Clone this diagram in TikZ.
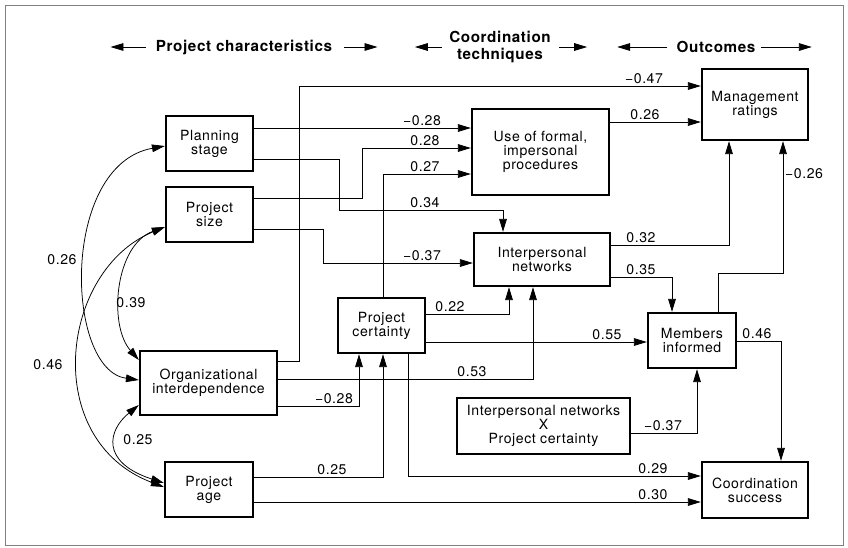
\documentclass[tikz,border=0pt]{standalone}
\usepackage{fontspec}
\setmainfont[LetterSpace=4]{TeX Gyre Heros}
\usetikzlibrary{arrows.meta}

\begin{document}
\begin{tikzpicture}[
  x=0.03cm, y=-0.03cm,
  >={Triangle[length=11pt,width=6.5pt]},
  every node/.style={font=\fontsize{12}{12}\selectfont},
  box/.style 2 args={draw, line width=2pt, align=center, inner sep=0pt,
    minimum width=#1*0.03cm, minimum height=#2*0.03cm},
  lab/.style={above, inner sep=1.5pt},
  head/.style={font=\fontsize{13}{14}\selectfont\bfseries, align=center, inner sep=0pt},
  every path/.style={line width=0.65pt}
]
\useasboundingbox (0,0) rectangle (848,547);
\draw[gray, line width=0.5pt] (5,5) rectangle (843,545);

% Headings
\node[head] (pc) at (244,47) {Project characteristics};
\node[head] (ct) at (500,47) {Coordination\\techniques};
\node[head] (oc) at (716,47) {Outcomes};
\draw[->] (pc.west) ++(-10,0) -- ++(-35,0);
\draw[->] (pc.east) ++(12,0) -- ++(33,0);
\draw[->] (ct.west) ++(-7,0) -- ++(-27,0);
\draw[->] (ct.east) ++(8,0) -- ++(28,0);
\draw[->] (oc.west) ++(-9,0) -- ++(-50,0);
\draw[->] (oc.east) ++(5,0) -- ++(51,0);

% Nodes
\node[box={87}{55}]  (plan)  at (209.5,143.5) {Planning\\stage};
\node[box={87}{55}]  (size)  at (209.5,214.5) {Project\\size};
\node[box={137}{64}] (org)   at (208.5,383)   {Organizational\\interdependence};
\node[box={88}{55}]  (age)   at (209,489.5)   {Project\\age};
\node[box={87}{55}]  (cert)  at (381.5,325.5) {Project\\certainty};
\node[box={137}{86}] (use)   at (540.5,152)   {Use of formal,\\impersonal\\procedures};
\node[box={136}{53}] (inet)  at (542,259.5)   {Interpersonal\\networks};
\node[box={173}{56}] (inter) at (543.5,426)   {Interpersonal networks\\X\\Project certainty};
\node[box={106}{71}] (mgmt)  at (755,104.5)   {Management\\ratings};
\node[box={88}{55}]  (memb)  at (692,340.5)   {Members\\informed};
\node[box={106}{56}] (coord) at (755,490)     {Coordination\\success};

% Correlations
\draw[<->] (plan.west |- 0,146) .. controls (60,165) and (65,370) .. (org.west |- 0,380)
  node at (62,260) {0.26};
\draw[<->] (size.west |- 0,227) .. controls (115,245) and (108,325) .. (org.west |- 0,360)
  node at (131,303) {0.39};
\draw[<->] (size.west |- 0,227) .. controls (60,270) and (40,440) .. (age.west |- 0,487)
  node at (48,365) {0.46};
\draw[<->] (org.west |- 0,405) .. controls (108,430) and (100,462) .. (age.west |- 0,483)
  node at (138,440) {0.25};

% Arrows + labels
\draw[->] (org.east |- 0,361) -- (299,361) |- (mgmt.west |- 0,86)
  node[lab] at (644,86) {−0.47};
\draw[->] (plan.east |- 0,128) -- (use.west |- 0,128)
  node[lab] at (422,128) {−0.28};
\draw[->] (size.east |- 0,198) -| (362,148) -- (use.west |- 0,148)
  node[lab] at (425,148) {0.28};
\draw[->] (cert.north -| 383,0) |- (use.west |- 0,174)
  node[lab] at (425,174) {0.27};
\draw[->] (plan.east |- 0,159) -- (339,159) |- (503,210) -- (inet.north -| 503,0)
  node[lab] at (425,210) {0.34};
\draw[->] (size.east |- 0,229) -- (323,229) |- (inet.west |- 0,263)
  node[lab] at (422,263) {−0.37};
\draw[->] (use.east |- 0,122) -- (mgmt.west |- 0,122)
  node[lab] at (645,122) {0.26};
\draw[->] (inet.east |- 0,245) -| (mgmt.south -| 729,0)
  node[lab] at (641,245) {0.32};
\draw[->] (inet.east |- 0,277) -| (memb.north -| 672,0)
  node[lab] at (641,277) {0.35};
\draw[->] (memb.north -| 718,0) |- (783,273) -- (mgmt.south -| 783,0)
  node[right, inner sep=1.5pt] at (783,174) {−0.26};
\draw[->] (cert.east |- 0,314) -| (inet.south -| 509,0)
  node[lab] at (450,314) {0.22};
\draw[->] (cert.east |- 0,342) -- (memb.west |- 0,342)
  node[lab] at (607,342) {0.55};
\draw[->] (org.east |- 0,379) -| (inet.south -| 533,0)
  node[lab] at (472,379) {0.53};
\draw[->] (org.east |- 0,406) -| (cert.south -| 359,0)
  node[lab] at (334,406) {−0.28};
\draw[->] (age.east |- 0,477) -| (cert.south -| 383,0)
  node[lab] at (332,477) {0.25};
\draw[->] (cert.south -| 408,0) |- (coord.west |- 0,476)
  node[lab] at (653,476) {0.29};
\draw[->] (age.east |- 0,502) -- (coord.west |- 0,502)
  node[lab] at (653,502) {0.30};
\draw[->] (memb.east |- 0,341) -| (coord.north -| 781,0)
  node[lab] at (757,341) {0.46};
\draw[->] (inter.east |- 0,433) -| (memb.south -| 697,0)
  node[lab] at (663,433) {−0.37};

\end{tikzpicture}
\end{document}
